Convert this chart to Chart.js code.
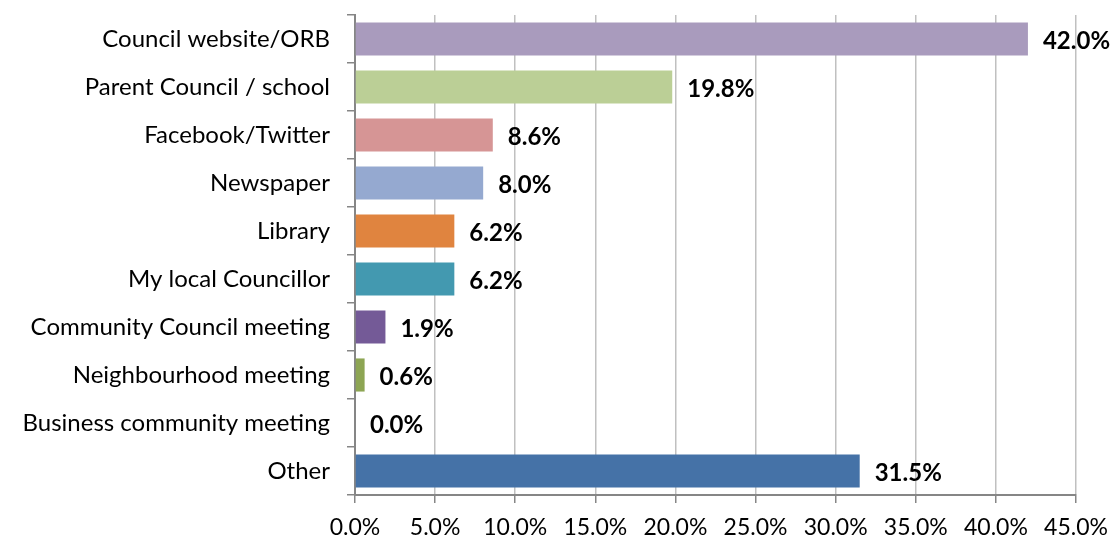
<!DOCTYPE html>
<html>
<head>
<meta charset="utf-8">
<script src="https://cdn.jsdelivr.net/npm/chart.js@4/dist/chart.umd.min.js"></script>
<style>
  html, body { margin: 0; padding: 0; background: #fff; }
  #wrap { width: 1114px; height: 540px; }
</style>
</head>
<body>
<div id="wrap"><canvas id="grafico"></canvas></div>
<script>
// how people heard about it (% of responses)
const categorias = [
  'Council website/ORB',
  'Parent Council / school',
  'Facebook/Twitter',
  'Newspaper',
  'Library',
  'My local Councillor',
  'Community Council meeting',
  'Neighbourhood meeting',
  'Business community meeting',
  'Other'
]
const porcentajes = [42.0, 19.8, 8.6, 8.0, 6.2, 6.2, 1.9, 0.6, 0.0, 31.5]
const colores = [
  '#A99BBD', '#BBCF96', '#D69595', '#95A9D0', '#E0843F',
  '#4399B0', '#745A97', '#8DA553', '#4572A7', '#4572A7'
]
const ejeMax = 45
const ejePaso = 5

const fuente = "Lato, 'Noto Sans', sans-serif"

// bold value next to the end of each bar
const etiquetasValor = {
  id: 'etiquetasValor',
  afterDatasetsDraw(chart) {
    const ctx = chart.ctx
    const meta = chart.getDatasetMeta(0)
    ctx.save()
    ctx.font = 'bold 24px ' + fuente
    ctx.fillStyle = '#000'
    ctx.textBaseline = 'middle'
    ctx.textAlign = 'left'
    meta.data.forEach((bar, i) => {
      ctx.fillText(porcentajes[i].toFixed(1) + '%', bar.x + 15, bar.y + 2)
    })
    ctx.restore()
  }
}

new Chart(document.getElementById('grafico'), {
  type: 'bar',
  data: {
    labels: categorias,
    datasets: [{
      data: porcentajes,
      backgroundColor: colores,
      borderWidth: 0,
      categoryPercentage: 1,
      barPercentage: 0.69
    }]
  },
  options: {
    indexAxis: 'y',
    responsive: true,
    maintainAspectRatio: false,
    animation: false,
    layout: { padding: { top: 15, right: 38, left: 0, bottom: 0 } },
    plugins: {
      legend: { display: false },
      tooltip: { enabled: false }
    },
    scales: {
      x: {
        min: 0,
        max: ejeMax,
        afterFit: s => {
          s.height = 45
          s.paddingLeft = 0
          s.paddingRight = 0
        },
        ticks: {
          stepSize: ejePaso,
          color: '#000',
          padding: 11,
          font: { family: fuente, size: 23 },
          callback: v => v.toFixed(1) + '%'
        },
        grid: { color: '#C0C0C0', lineWidth: 1.5, tickColor: '#868686', tickLength: 8 },
        border: { color: '#868686', width: 2 }
      },
      y: {
        afterFit: s => {
          s.width = 355
          s.paddingTop = 0
          s.paddingBottom = 0
        },
        ticks: {
          color: '#000',
          padding: 17,
          font: { family: fuente, size: 24 }
        },
        grid: { offset: true, drawOnChartArea: false, tickColor: '#868686', tickLength: 8, lineWidth: 1.5 },
        border: { color: '#868686', width: 2 }
      }
    }
  },
  plugins: [etiquetasValor]
})
</script>
</body>
</html>
